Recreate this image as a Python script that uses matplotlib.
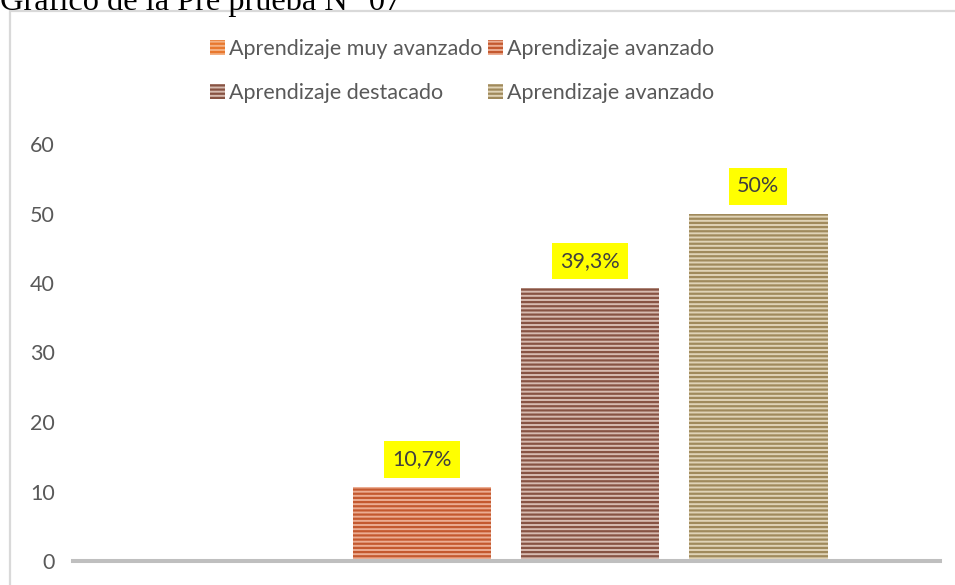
import matplotlib
matplotlib.use("Agg")
import matplotlib.pyplot as plt
from matplotlib.patches import Rectangle

# ---------- data ----------
series_names = [
    "Aprendizaje muy avanzado",
    "Aprendizaje avanzado",
    "Aprendizaje destacado",
    "Aprendizaje avanzado",
]
values = [0, 10.7, 39.3, 50]
value_labels = ["", "10,7%", "39,3%", "50%"]
title = "Gráfico de la Pre prueba N° 07"

# stripe colours (light face, dark stripes)
face_colors = ["#F4B183", "#ECAD92", "#D7BBB0", "#E0D3B6"]
stripe_colors = ["#E8782E", "#C4592F", "#875343", "#A08A5C"]

plt.rcParams["hatch.linewidth"] = 1.6
W, H = 955, 585
fig = plt.figure(figsize=(W / 100, H / 100), dpi=100)

# outer chart frame (cut off at right and bottom like the source)
fig.patches.append(Rectangle((10 / W, -0.1), 1.1, 1 - 11 / H + 0.1,
                             transform=fig.transFigure, fill=False,
                             edgecolor="#D9D9D9", linewidth=1.6))

fig.text(0, 1 - 10 / H, title, family="Liberation Serif", fontsize=23.3,
         va="baseline", ha="left", color="black")

ax = fig.add_axes([73 / W, (H - 561) / H, 867 / W, 417 / H])
ax.set_ylim(0, 60)
ax.set_xlim(-1.077, 4.083)
ax.set_yticks(range(0, 61, 10))
ax.set_xticks([])
ax.tick_params(axis="y", length=0, pad=13, labelsize=15.5, labelcolor="#595959")
for lab in ax.get_yticklabels():
    lab.set_family("Lato")
for s in ["top", "right", "left"]:
    ax.spines[s].set_visible(False)
ax.spines["bottom"].set_color("#BFBFBF")
ax.spines["bottom"].set_linewidth(2.9)
ax.spines["bottom"].set_zorder(5)

handles = []
for i, (name, v) in enumerate(zip(series_names, values)):
    b = ax.bar(i, v, width=0.827, color=face_colors[i], edgecolor=stripe_colors[i],
               hatch="----", linewidth=0, label=name, zorder=3)
    handles.append(b)
    if value_labels[i]:
        ax.annotate(value_labels[i], (i, v), xytext=(0, 19.5), textcoords="offset points",
                    ha="center", va="center", fontsize=15.5, family="Lato", color="#404040",
                    bbox=dict(boxstyle="square,pad=0.38", facecolor="#FFFF00", edgecolor="none"),
                    zorder=6)

# legend fills row by row in the source: reorder for matplotlib's column-wise fill
order = [0, 2, 1, 3]
leg = ax.legend(handles=[handles[k] for k in order], labels=[series_names[k] for k in order],
                ncol=2, loc="center",
                bbox_to_anchor=(462 / W, 1 - 71 / H), bbox_transform=fig.transFigure,
                frameon=False, prop={"family": "Lato", "size": 15.5},
                handlelength=0.7, handleheight=0.7, handletextpad=0.2,
                columnspacing=0.25, labelspacing=1.15, labelcolor="#595959")

fig.savefig("out.png", dpi=100)
